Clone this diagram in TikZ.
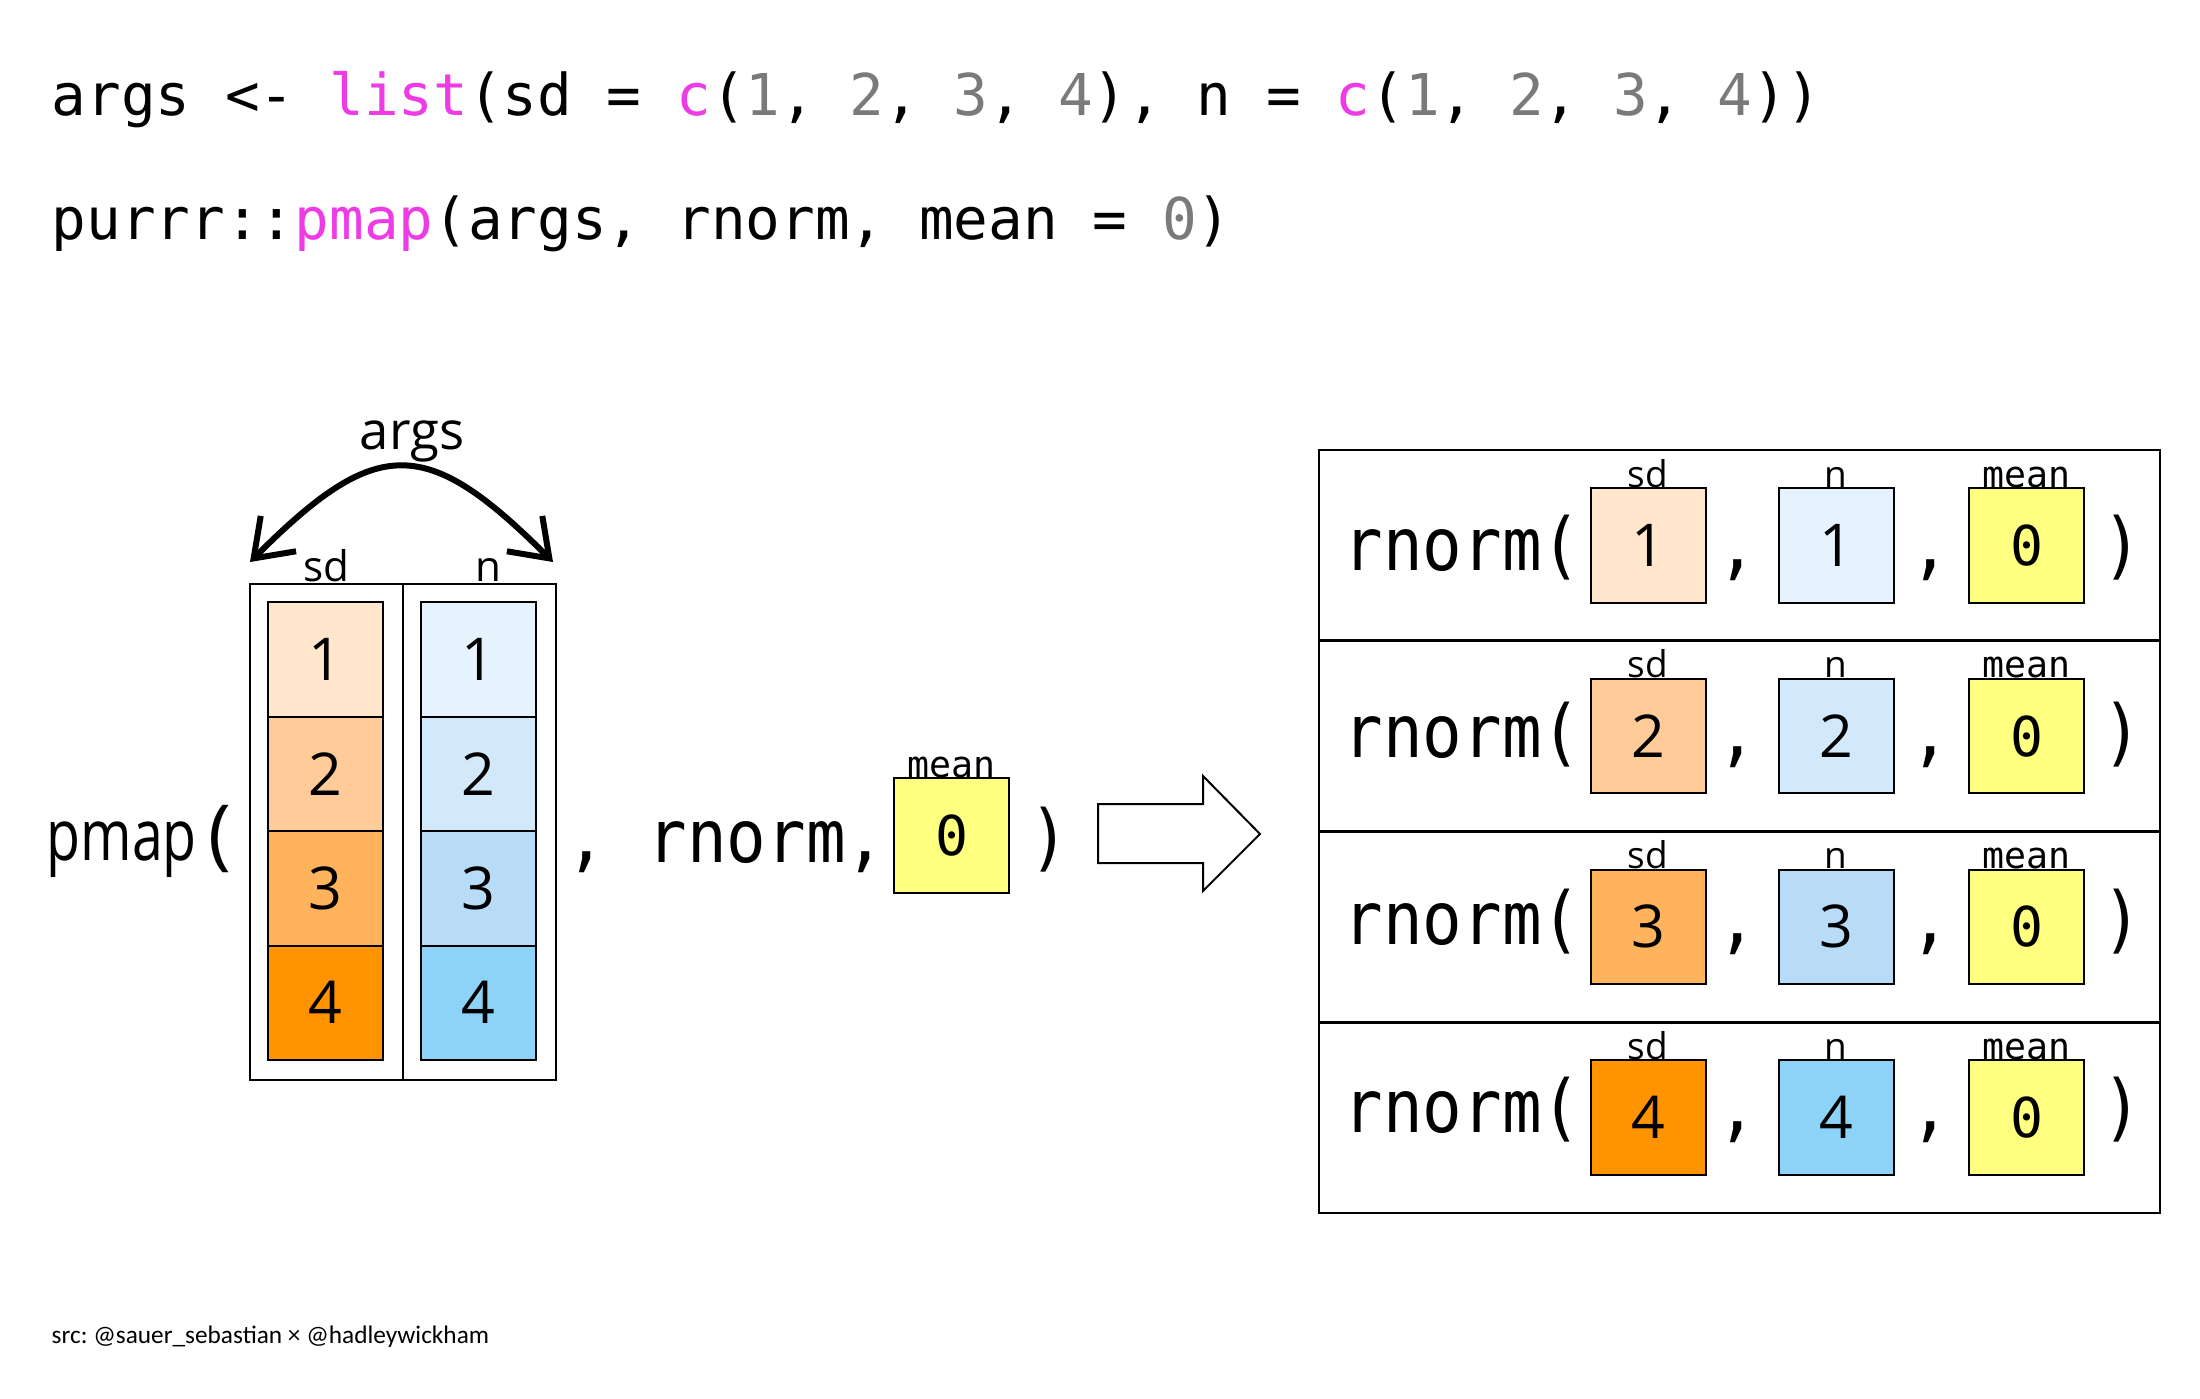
\documentclass[tikz,border=0pt]{standalone}
\usepackage{fontspec}
\usetikzlibrary{arrows.meta}

\newfontfamily\codefont{DejaVu Sans Mono}
\newfontfamily\plainmono{DejaVu Sans Mono}
\newfontfamily\boxmono[FakeStretch=0.9]{DejaVu Sans Mono}
\newfontfamily\labelsans{Open Sans}
\newfontfamily\narrowsans[FakeStretch=0.78]{Open Sans}
\newfontfamily\footfont{Carlito}

\definecolor{rpink}{HTML}{EE3BE6}
\definecolor{rgray}{HTML}{7A7A7A}
\definecolor{sdA}{HTML}{FFE6CC}
\definecolor{sdB}{HTML}{FFCC99}
\definecolor{sdC}{HTML}{FFB35C}
\definecolor{sdD}{HTML}{FF9400}
\definecolor{nA}{HTML}{E6F3FF}
\definecolor{nB}{HTML}{D2E8FB}
\definecolor{nC}{HTML}{B8DCF7}
\definecolor{nD}{HTML}{8DD3F7}
\definecolor{meanY}{HTML}{FFFF80}

\newcommand\rfun[1]{\textcolor{rpink}{#1}}
\newcommand\rnum[1]{\textcolor{rgray}{#1}}

\begin{document}
\begin{tikzpicture}[x=0.1mm,y=-0.1mm,
  codeline/.style={anchor=base west,inner sep=0pt,font=\codefont\fontsize{16.4}{20}\selectfont},
  cell/.style={draw,line width=0.2mm,minimum width=11.5mm,minimum height=11.45mm,inner sep=0pt,font=\labelsans\fontsize{16.8}{20}\selectfont},
  meanbox/.style={cell,fill=meanY,font=\plainmono\fontsize{15.6}{18}\selectfont},
  rowbox/.style={draw,line width=0.28mm,minimum width=84.1mm,minimum height=19.075mm,inner sep=0pt},
  rtext/.style={anchor=base west,inner sep=0pt,font=\boxmono\fontsize{20.8}{24}\selectfont},
  rsym/.style={anchor=base,inner sep=0pt,font=\boxmono\fontsize{20.8}{24}\selectfont},
  rlabel/.style={anchor=base,inner sep=0pt,font=\labelsans\fontsize{10.5}{12}\selectfont},
  meanlabel/.style={anchor=base,inner sep=0pt,font=\plainmono\fontsize{10.4}{12}\selectfont},
  leftlabel/.style={anchor=base,inner sep=0pt,font=\labelsans\fontsize{12}{14}\selectfont},
  argarrow/.style={{Straight Barb[length=3.5mm,width=5mm]}-{Straight Barb[length=3.5mm,width=5mm]},line width=0.6mm}]
\useasboundingbox (0,0) rectangle (2200,1399);

\node[codeline] (code1) at (51,116) {args <- \rfun{list}(sd = \rfun{c}(\rnum{1}, \rnum{2}, \rnum{3}, \rnum{4}), n = \rfun{c}(\rnum{1}, \rnum{2}, \rnum{3}, \rnum{4}))};
\node[codeline] (code2) at (51,240) {purrr::\rfun{pmap}(args, rnorm, mean = \rnum{0})};

\node[anchor=base west,inner sep=0pt,font=\narrowsans\fontsize{20.2}{24}\selectfont] (pmap) at (46,860) {pmap};
\node[anchor=base west,inner sep=0pt,font=\labelsans\fontsize{22}{24}\selectfont] (pmapopen) at (208,860) {(};

\node[draw,line width=0.2mm,minimum width=30.6mm,minimum height=49.6mm,inner sep=0pt] (argsbox) at (403,832) {};
\draw[line width=0.2mm] (argsbox.north) -- (argsbox.south);

\node[cell,fill=sdA] (sd1) at (325.5,659.25) {1};
\node[cell,fill=sdB] (sd2) at (325.5,773.75) {2};
\node[cell,fill=sdC] (sd3) at (325.5,888.25) {3};
\node[cell,fill=sdD] (sd4) at (325.5,1002.75) {4};
\node[cell,fill=nA] (n1) at (478.5,659.25) {1};
\node[cell,fill=nB] (n2) at (478.5,773.75) {2};
\node[cell,fill=nC] (n3) at (478.5,888.25) {3};
\node[cell,fill=nD] (n4) at (478.5,1002.75) {4};

\node[leftlabel] (sdname) at (326,581) {sd};
\node[leftlabel] (nname) at (488,581) {n};
\node[anchor=base,inner sep=0pt,font=\labelsans\fontsize{15}{17}\selectfont] (argsname) at (412,449) {args};

\coordinate (argsL) at (250,562);
\coordinate (argsR) at (553,562);
\draw[argarrow] (argsL) .. controls (377,435) and (426,435) .. (argsR);

\node[rsym] (comma0) at (586,862) {,};
\node[rtext] (rnormmid) at (647,862) {rnorm,};
\node[meanbox] (meanmid) at (951.5,835.5) {0};
\node[meanlabel] (meanmidname) at (meanmid.north) {mean};
\node[rsym] (closemid) at (1049,862) {)};

\draw[line width=0.2mm,line join=miter] (1098,804) -- (1203,804) -- (1203,776) -- (1260,834) -- (1203,891) -- (1203,863) -- (1098,863) -- cycle;

\node[rowbox] (row1) at (1739.5,545.4) {};
\node[rowbox] (row2) at (1739.5,736.1) {};
\node[rowbox] (row3) at (1739.5,926.9) {};
\node[rowbox] (row4) at (1739.5,1117.6) {};

\node[rtext] (call1) at (1343,570) {rnorm(};
\node[cell,fill=sdA] (rsd1) at (1648,545.4) {1};
\node[rsym] (comma1a) at (1737,570) {,};
\node[cell,fill=nA] (rn1) at (1836,545.4) {1};
\node[rsym] (comma1b) at (1930,570) {,};
\node[meanbox] (rmean1) at (2026.5,545.4) {0};
\node[rsym] (close1) at (2122,570) {)};
\node[rlabel] (rsdname1) at (rsd1.north) {sd};
\node[rlabel] (rnname1) at (rn1.north) {n};
\node[meanlabel] (rmeanname1) at (rmean1.north) {mean};

\node[rtext] (call2) at (1343,757) {rnorm(};
\node[cell,fill=sdB] (rsd2) at (1648,736.1) {2};
\node[rsym] (comma2a) at (1737,757) {,};
\node[cell,fill=nB] (rn2) at (1836,736.1) {2};
\node[rsym] (comma2b) at (1930,757) {,};
\node[meanbox] (rmean2) at (2026.5,736.1) {0};
\node[rsym] (close2) at (2122,757) {)};
\node[rlabel] (rsdname2) at (rsd2.north) {sd};
\node[rlabel] (rnname2) at (rn2.north) {n};
\node[meanlabel] (rmeanname2) at (rmean2.north) {mean};

\node[rtext] (call3) at (1343,944) {rnorm(};
\node[cell,fill=sdC] (rsd3) at (1648,926.9) {3};
\node[rsym] (comma3a) at (1737,944) {,};
\node[cell,fill=nC] (rn3) at (1836,926.9) {3};
\node[rsym] (comma3b) at (1930,944) {,};
\node[meanbox] (rmean3) at (2026.5,926.9) {0};
\node[rsym] (close3) at (2122,944) {)};
\node[rlabel] (rsdname3) at (rsd3.north) {sd};
\node[rlabel] (rnname3) at (rn3.north) {n};
\node[meanlabel] (rmeanname3) at (rmean3.north) {mean};

\node[rtext] (call4) at (1343,1132) {rnorm(};
\node[cell,fill=sdD] (rsd4) at (1648,1117.6) {4};
\node[rsym] (comma4a) at (1737,1132) {,};
\node[cell,fill=nD] (rn4) at (1836,1117.6) {4};
\node[rsym] (comma4b) at (1930,1132) {,};
\node[meanbox] (rmean4) at (2026.5,1117.6) {0};
\node[rsym] (close4) at (2122,1132) {)};
\node[rlabel] (rsdname4) at (rsd4.north) {sd};
\node[rlabel] (rnname4) at (rn4.north) {n};
\node[meanlabel] (rmeanname4) at (rmean4.north) {mean};

\node[anchor=base west,inner sep=0pt,font=\footfont\fontsize{7.2}{9}\selectfont\frenchspacing] (credit) at (51,1343) {src: @sauer\_sebastian × @hadleywickham};
\end{tikzpicture}
\end{document}
